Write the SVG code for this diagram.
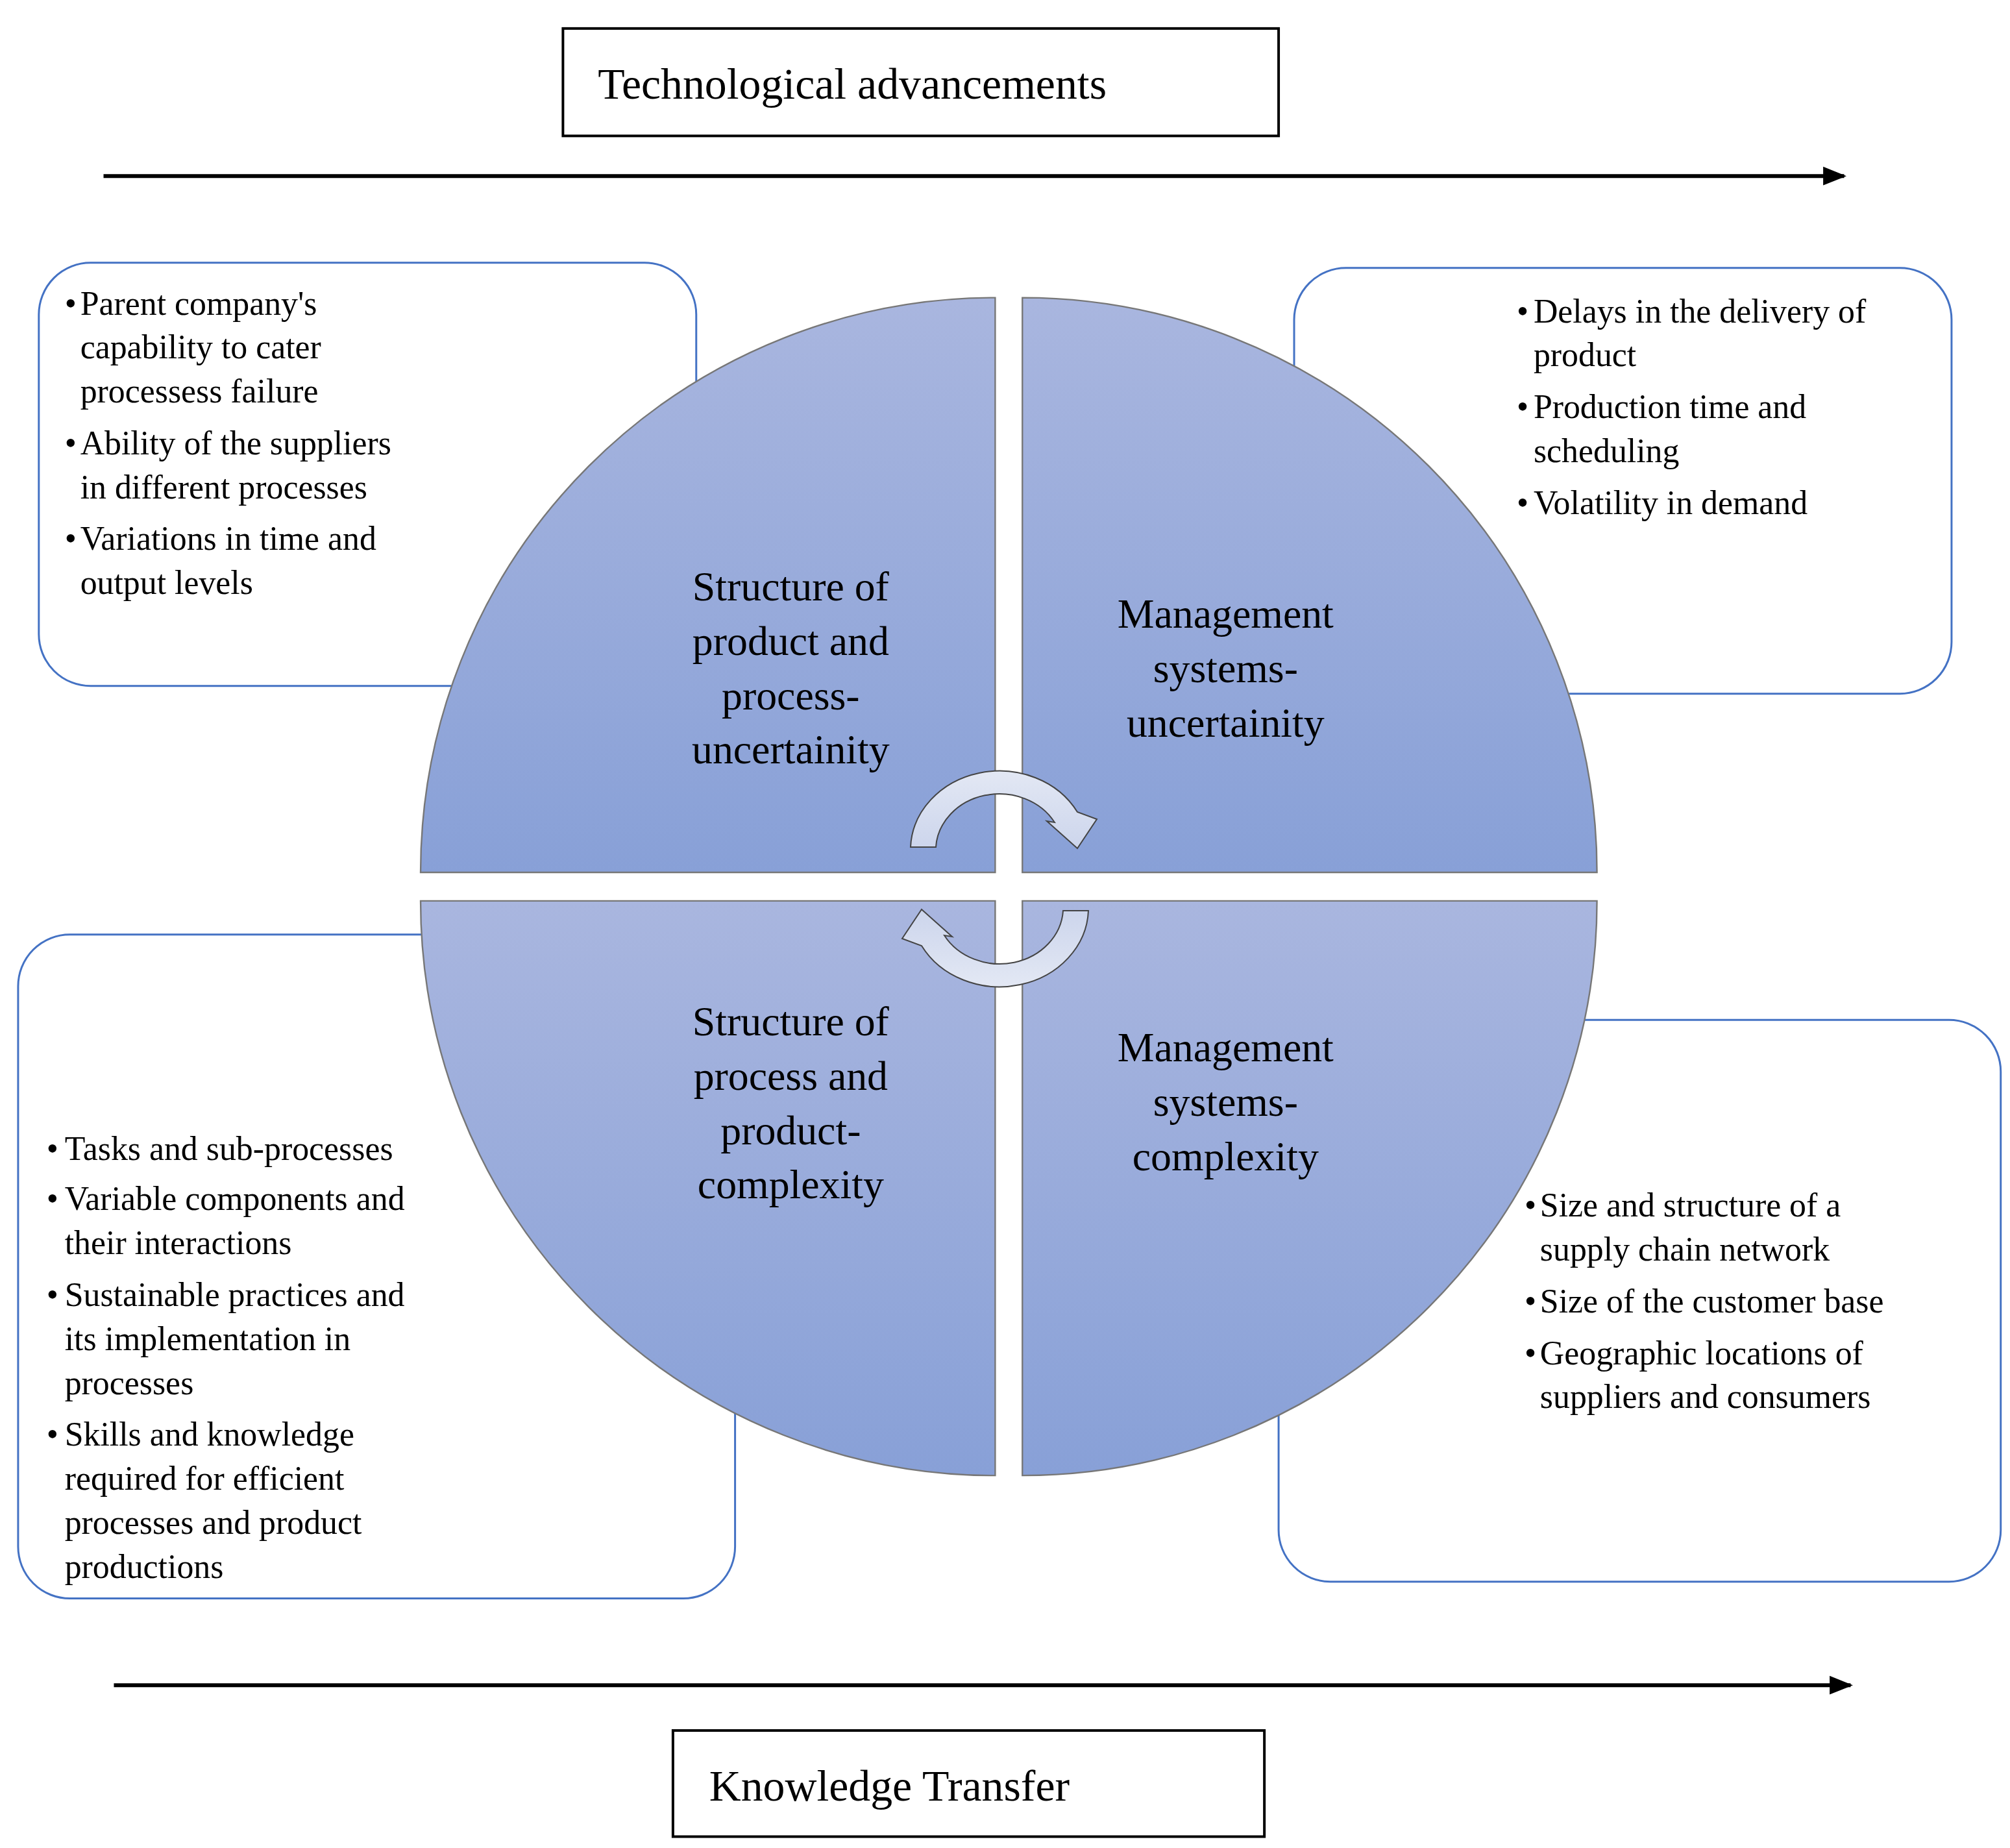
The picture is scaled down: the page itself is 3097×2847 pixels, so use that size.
<svg xmlns="http://www.w3.org/2000/svg" width="3097" height="2847" viewBox="0 0 3097 2847">
<defs>
<linearGradient id="qg" x1="0" y1="0" x2="0" y2="1"><stop offset="0" stop-color="#A9B6DF"/><stop offset="1" stop-color="#88A0D7"/></linearGradient>
<linearGradient id="ag" x1="0" y1="0" x2="0" y2="1"><stop offset="0" stop-color="#E3E8F4"/><stop offset="1" stop-color="#CCD5EC"/></linearGradient>
<marker id="ah" viewBox="0 0 10 10" refX="9" refY="5" markerWidth="6" markerHeight="6" orient="auto" markerUnits="strokeWidth"><path d="M0,1 L10,5 L0,9 Z" fill="#000"/></marker>
</defs>
<style>
text{font-family:"Liberation Serif","DejaVu Serif",serif;fill:#000}
.t{font-size:26px}
.q{font-size:32px;text-anchor:middle}
.h{font-size:34px}
.box{fill:#fff;stroke:#4472C4;stroke-width:1.5}
.quad{fill:url(#qg);stroke:#777;stroke-width:1.2}
.frame{fill:#fff;stroke:#000;stroke-width:2}
.arr{fill:url(#ag);stroke:#444;stroke-width:2}
</style>
<rect width="3097" height="2847" fill="#fff"/>
<g transform="scale(1.994)">
<g id="connectors">
<line x1="80" y1="136" x2="1425" y2="136" stroke="#000" stroke-width="3" marker-end="url(#ah)"/>
<line x1="88" y1="1302" x2="1430" y2="1302" stroke="#000" stroke-width="3" marker-end="url(#ah)"/>
</g>
<g id="tech"><rect class="frame" x="435" y="22" width="553" height="83"/><text class="h" x="462" y="76">Technological advancements</text></g>
<g id="knowledge"><rect class="frame" x="520" y="1337" width="457" height="82"/><text class="h" x="548" y="1391">Knowledge Transfer</text></g>
<g id="box-tl"><rect class="box" x="30" y="203" width="508" height="327" rx="40"/>
<text class="t"><tspan x="50" y="243">•</tspan><tspan x="62" y="243">Parent company's</tspan><tspan x="62" y="277">capability to cater</tspan><tspan x="62" y="311">processess failure</tspan><tspan x="50" y="351">•</tspan><tspan x="62" y="351">Ability of the suppliers</tspan><tspan x="62" y="385">in different processes</tspan><tspan x="50" y="425">•</tspan><tspan x="62" y="425">Variations in time and</tspan><tspan x="62" y="459">output levels</tspan></text></g>
<g id="box-tr"><rect class="box" x="1000" y="207" width="508" height="329" rx="40"/>
<text class="t"><tspan x="1172" y="249">•</tspan><tspan x="1185" y="249">Delays in the delivery of</tspan><tspan x="1185" y="283">product</tspan><tspan x="1172" y="323">•</tspan><tspan x="1185" y="323">Production time and</tspan><tspan x="1185" y="357">scheduling</tspan><tspan x="1172" y="397">•</tspan><tspan x="1185" y="397">Volatility in demand</tspan></text></g>
<g id="box-bl"><rect class="box" x="14" y="722" width="554" height="513" rx="40"/>
<text class="t"><tspan x="36" y="896">•</tspan><tspan x="50" y="896">Tasks and sub-processes</tspan><tspan x="36" y="935">•</tspan><tspan x="50" y="935">Variable components and</tspan><tspan x="50" y="969">their interactions</tspan><tspan x="36" y="1009">•</tspan><tspan x="50" y="1009">Sustainable practices and</tspan><tspan x="50" y="1043">its implementation in</tspan><tspan x="50" y="1077">processes</tspan><tspan x="36" y="1117">•</tspan><tspan x="50" y="1117">Skills and knowledge</tspan><tspan x="50" y="1151">required for efficient</tspan><tspan x="50" y="1185">processes and product</tspan><tspan x="50" y="1219">productions</tspan></text></g>
<g id="box-br"><rect class="box" x="988" y="788" width="558" height="434" rx="40"/>
<text class="t"><tspan x="1178" y="940">•</tspan><tspan x="1190" y="940">Size and structure of a</tspan><tspan x="1190" y="974">supply chain network</tspan><tspan x="1178" y="1014">•</tspan><tspan x="1190" y="1014">Size of the customer base</tspan><tspan x="1178" y="1054">•</tspan><tspan x="1190" y="1054">Geographic locations of</tspan><tspan x="1190" y="1088">suppliers and consumers</tspan></text></g>
<g id="q-tl"><path class="quad" d="M769,674 L325,674 A444,444 0 0 1 769,230 Z"/>
<text class="q"><tspan x="611" y="464">Structure of</tspan><tspan x="611" y="506">product and</tspan><tspan x="611" y="548">process-</tspan><tspan x="611" y="590">uncertainity</tspan></text></g>
<g id="q-tr"><path class="quad" d="M790,674 L790,230 A444,444 0 0 1 1234,674 Z"/>
<text class="q"><tspan x="947" y="485">Management</tspan><tspan x="947" y="527">systems-</tspan><tspan x="947" y="569">uncertainity</tspan></text></g>
<g id="q-bl"><path class="quad" d="M769,696 L769,1140 A444,444 0 0 1 325,696 Z"/>
<text class="q"><tspan x="611" y="800">Structure of</tspan><tspan x="611" y="842">process and</tspan><tspan x="611" y="884">product-</tspan><tspan x="611" y="926">complexity</tspan></text></g>
<g id="q-br"><path class="quad" d="M790,696 L1234,696 A444,444 0 0 1 790,1140 Z"/>
<text class="q"><tspan x="947" y="820">Management</tspan><tspan x="947" y="862">systems-</tspan><tspan x="947" y="904">complexity</tspan></text></g>
</g>
<g id="cycle-arrows">
<path id="arr-top" class="arr" d="M1403,1305 A137,122 0 0 1 1660,1251 L1690,1262 L1660,1307 L1613,1265 L1625,1267 A98,87 0 0 0 1442,1305 Z"/>
<path id="arr-bottom" class="arr" transform="rotate(180 1540 1354)" d="M1403,1305 A137,122 0 0 1 1660,1251 L1690,1262 L1660,1307 L1613,1265 L1625,1267 A98,87 0 0 0 1442,1305 Z"/>
</g>
</svg>
